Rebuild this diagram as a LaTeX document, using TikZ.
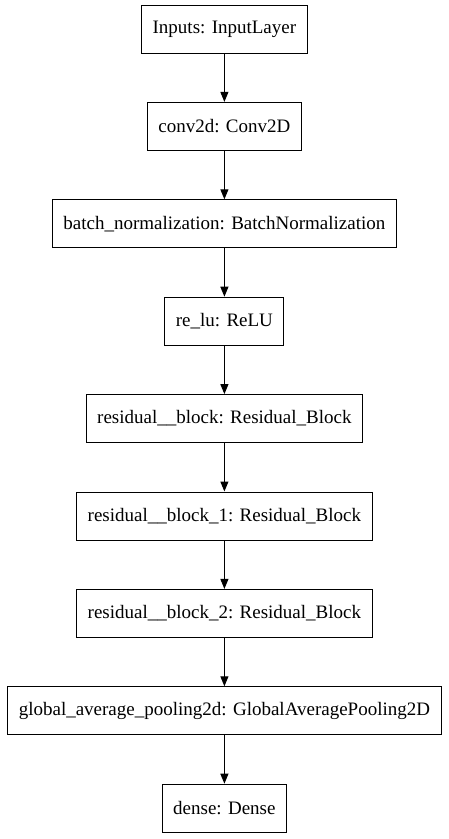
\documentclass[tikz,border=0pt]{standalone}
\usepackage{fontspec}
\setmainfont{Liberation Serif}
\usetikzlibrary{positioning,arrows.meta}

\begin{document}
\begin{tikzpicture}[x=1pt, y=1pt,
			layer/.style={draw, line width=1pt, inner xsep=11pt, inner ysep=0pt, minimum height=48pt, font=\fontsize{19}{21}\selectfont},
			flow/.style={-{Triangle[length=10pt,width=8pt]}, line width=1pt},
			node distance=48.4pt]
			\useasboundingbox (0,0) rectangle (449,-839);
			\node[layer] (inputs) at (224.4,-29) {Inputs: InputLayer};
			\node[layer, below=of inputs] (conv) {conv2d: Conv2D};
			\node[layer, below=of conv] (bn) {batch\_normalization: BatchNormalization};
			\node[layer, below=of bn] (relu) {re\_lu: ReLU};
			\node[layer, below=of relu] (res0) {residual\_\_block: Residual\_Block};
			\node[layer, below=of res0] (res1) {residual\_\_block\_1: Residual\_Block};
			\node[layer, below=of res1] (res2) {residual\_\_block\_2: Residual\_Block};
			\node[layer, below=of res2] (gap) {global\_average\_pooling2d: GlobalAveragePooling2D};
			\node[layer, below=of gap] (dense) {dense: Dense};
			% connectors
			\foreach \a/\b in {inputs/conv, conv/bn, bn/relu, relu/res0, res0/res1, res1/res2, res2/gap, gap/dense}
				\draw[flow] (\a) -- (\b);
\end{tikzpicture}
\end{document}
